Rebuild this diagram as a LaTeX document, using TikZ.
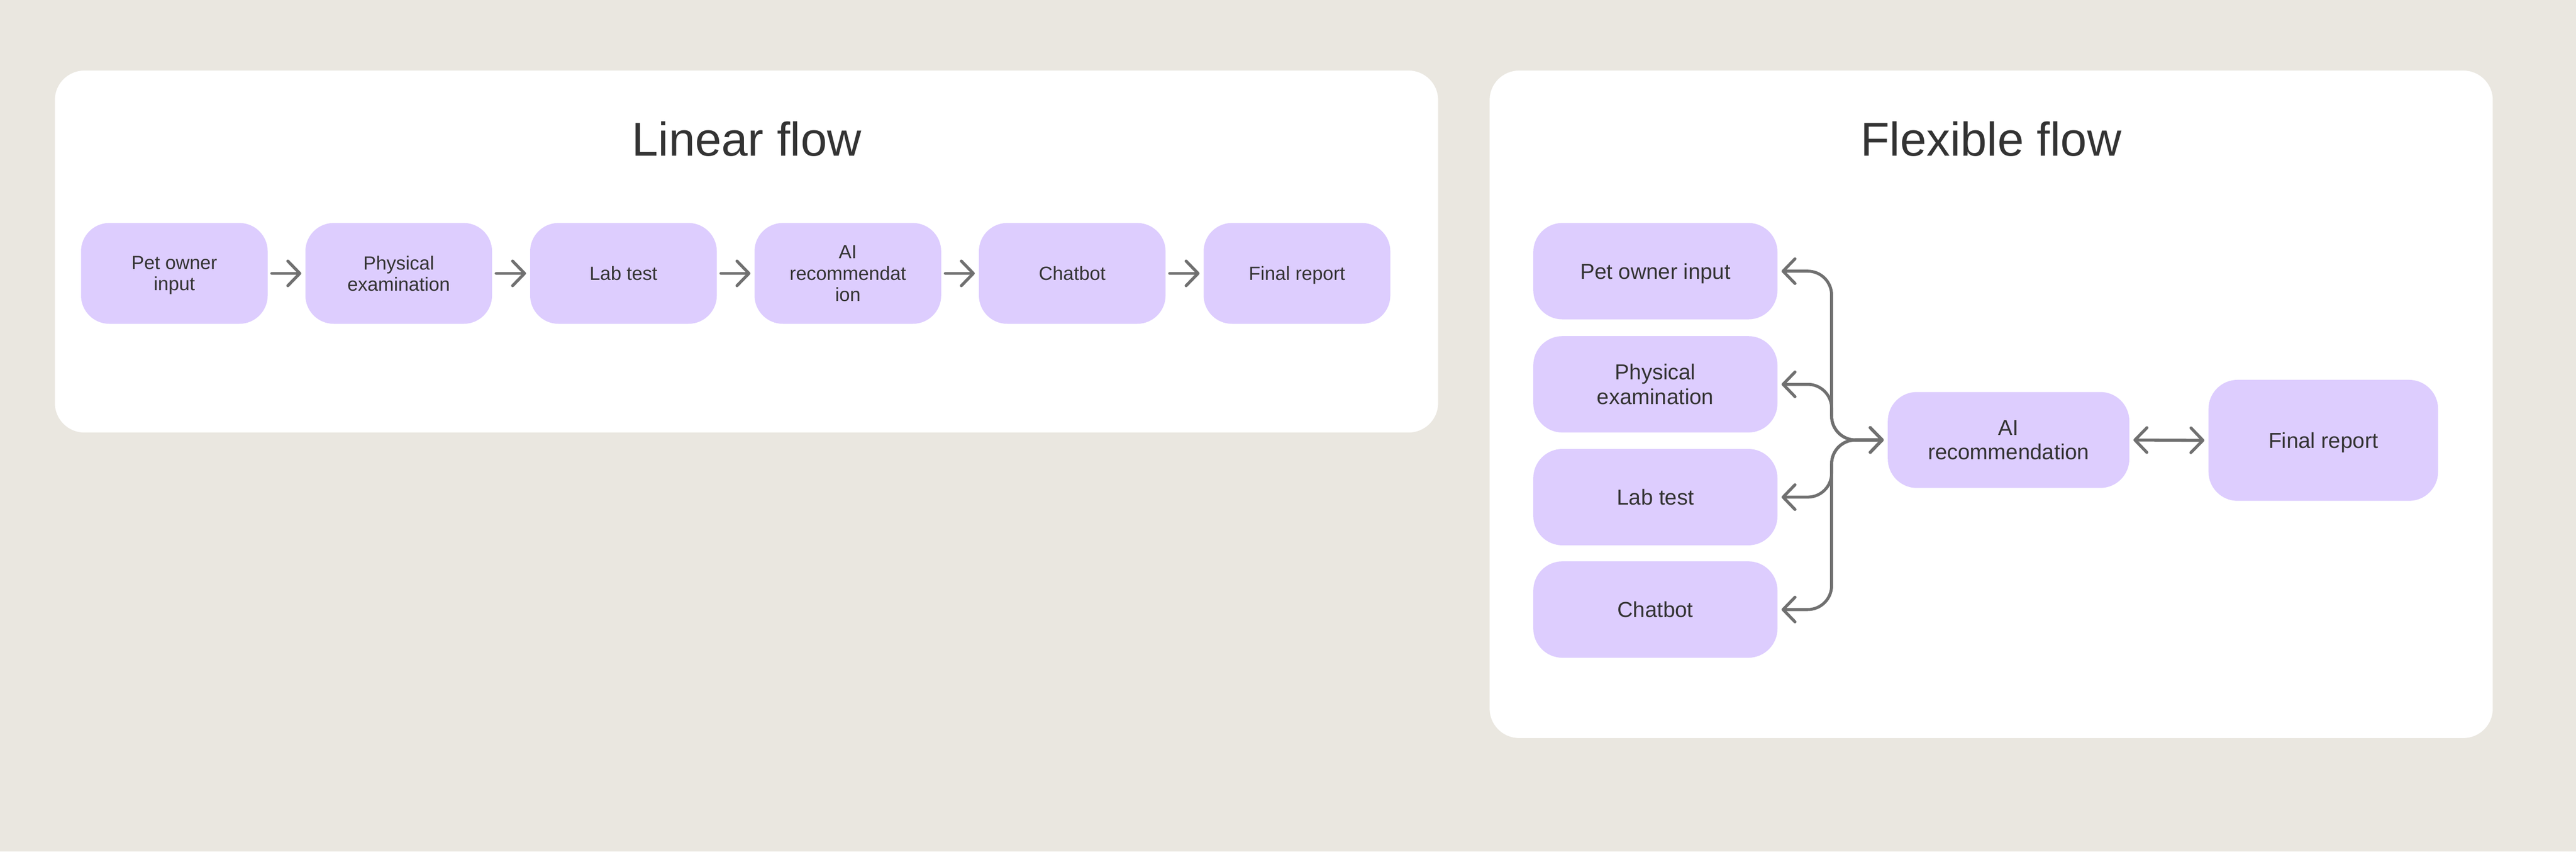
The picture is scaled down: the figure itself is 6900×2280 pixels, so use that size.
\documentclass[tikz,border=0pt]{standalone}
\usepackage{fontspec}
\setmainfont{Liberation Sans}
\usetikzlibrary{arrows.meta}
\definecolor{bgc}{HTML}{EAE7E0}
\definecolor{boxc}{HTML}{DDCDFE}
\definecolor{txtc}{HTML}{333333}
\definecolor{arrc}{HTML}{707070}
\begin{document}
\begin{tikzpicture}[x=0.1pt,y=-0.1pt,
  >={Straight Barb[length=3.2pt,width=6.6pt,round]},
  panel/.style={fill=white, rounded corners=7.9pt},
  lbox/.style={fill=boxc, rounded corners=7.6pt, minimum width=50pt, minimum height=27pt,
    inner sep=0pt, align=center, text=txtc, font=\fontsize{5.1}{5.7}\selectfont, text depth=0pt},
  rbox/.style={lbox, font=\fontsize{5.8}{6.6}\selectfont, rounded corners=7.8pt},
  ttl/.style={anchor=base, text=txtc, font=\fontsize{12.7}{15}\selectfont, inner sep=0pt},
  flowline/.style={draw=arrc, line width=0.8pt, line cap=round, shorten <=0.9pt, shorten >=0.9pt},
  conn/.style={flowline, <->, rounded corners=6.4pt}
]
\fill[bgc] (0,0) rectangle (6900,2280);
\useasboundingbox (0,0) rectangle (6900,2280);
\fill[panel] (147,189) rectangle (3852,1158);
\fill[panel] (3990,189) rectangle (6677,1976);
\node[ttl] (t1) at (2000,417) {Linear flow};
\node[ttl] (t2) at (5333,417) {Flexible flow};
% linear flow
\node[lbox] (l1) at (467,732) {Pet owner\\input};
\node[lbox] (l2) at (1068,732) {Physical\\examination};
\node[lbox] (l3) at (1670,732) {Lab test};
\node[lbox] (l4) at (2271,732) {AI\\recommendat\\ion};
\node[lbox] (l5) at (2872,732) {Chatbot};
\node[lbox] (l6) at (3474,732) {Final report};
\foreach \a/\b in {l1/l2,l2/l3,l3/l4,l4/l5,l5/l6}
  \draw[flowline,->] (\a.east) -- (\b.west);
% flexible flow
\node[rbox, minimum width=65.4pt, minimum height=25.8pt] (p1) at (4434,726) {Pet owner input};
\node[rbox, minimum width=65.4pt, minimum height=25.8pt] (p2) at (4434,1029) {Physical\\examination};
\node[rbox, minimum width=65.4pt, minimum height=25.8pt] (p3) at (4434,1331) {Lab test};
\node[rbox, minimum width=65.4pt, minimum height=25.8pt] (p4) at (4434,1632) {Chatbot};
\node[rbox, minimum width=64.7pt, minimum height=25.7pt] (ai) at (5380,1178) {AI\\recommendation};
\node[rbox, minimum width=61.5pt, minimum height=32.4pt] (fr) at (6223,1179) {Final report};
\coordinate (vx) at (4906,1178);
\foreach \p in {p1,p2,p3,p4}
  \draw[conn] (ai.west) -| (vx |- \p.east) -- (\p.east);
\draw[flowline,<->] (ai.east) -- (fr.west);
\end{tikzpicture}
\end{document}
